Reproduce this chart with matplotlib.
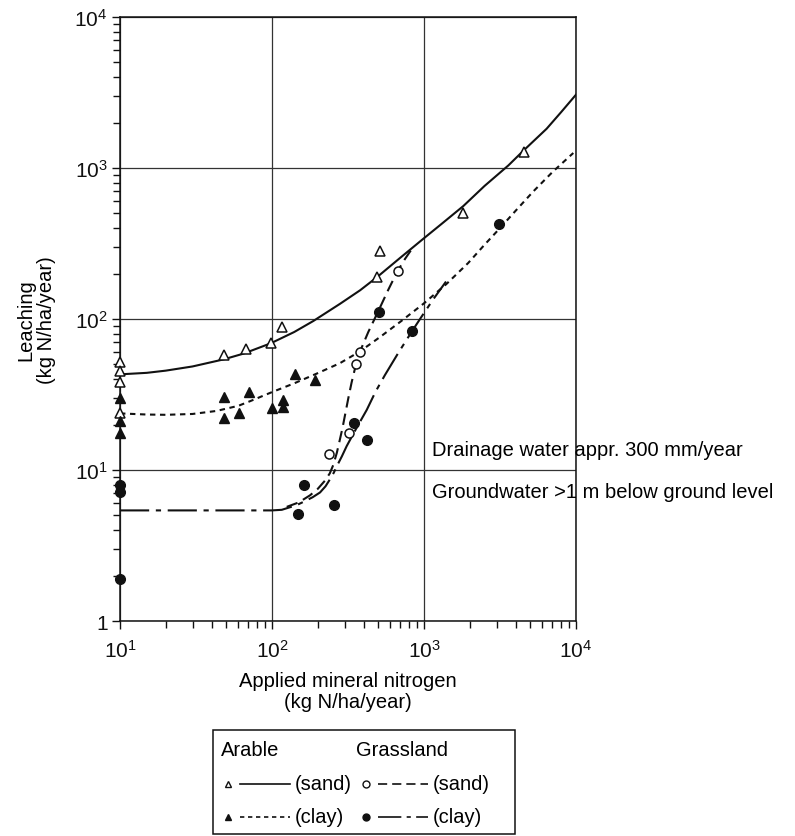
import matplotlib
matplotlib.use("Agg")
import matplotlib.pyplot as plt
from matplotlib.lines import Line2D
from matplotlib.patches import Rectangle
from matplotlib.ticker import LogLocator, FixedLocator, FixedFormatter, NullFormatter

plt.rcParams['font.family'] = ['Liberation Sans', 'DejaVu Sans']
plt.rcParams['mathtext.fontset'] = 'custom'
plt.rcParams['mathtext.rm'] = 'Liberation Sans'
plt.rcParams['mathtext.it'] = 'Liberation Sans:italic'
plt.rcParams['mathtext.bf'] = 'Liberation Sans:bold'

# ---------------- data ----------------
# Arable, sand (open triangles)
arable_sand_x = [10, 10, 10, 10, 48, 67, 98, 117, 489, 514, 1815, 4550]
arable_sand_y = [52, 45, 38, 24, 58, 63, 69, 89, 189, 284, 504, 1270]
# Arable, clay (filled triangles)
arable_clay_x = [10, 10, 10, 48, 48, 61, 71, 100, 118, 118, 142, 192]
arable_clay_y = [30, 21, 17.5, 30.6, 22, 24, 32.7, 25.8, 29, 26, 43, 39.6]
# Grassland, sand (open circles)
grass_sand_x = [238, 321, 357, 379, 671]
grass_sand_y = [12.7, 17.6, 50.7, 60.7, 207]
# Grassland, clay (filled circles)
grass_clay_x = [10, 10, 10, 149, 162, 256, 346, 420, 508, 834, 3126]
grass_clay_y = [8.0, 7.1, 1.9, 5.1, 8.0, 5.9, 20.4, 15.8, 111, 83, 428]

# fitted curves
curve_arable_sand_x = [10, 15, 20, 30, 48, 65, 98, 140, 187, 280, 380, 493, 700, 990,
                       1300, 1815, 2500, 3590, 4500, 6410, 8000, 10000]
curve_arable_sand_y = [43, 44, 45.5, 48.5, 54, 59, 69, 82, 97, 126, 155, 190, 255, 340,
                       425, 560, 760, 1040, 1300, 1820, 2350, 3060]

curve_arable_clay_x = [10, 15, 20, 30, 43, 60, 72, 100, 140, 197, 280, 379, 514, 700,
                       1000, 1400, 1954, 2500, 3162, 4000, 5240, 7000, 9600]
curve_arable_clay_y = [23.7, 23.3, 23.2, 23.5, 24.6, 26.6, 28.6, 32.8, 37.5, 43.5, 51, 61, 76, 96,
                       127, 170, 235, 310, 400, 520, 700, 940, 1257]

curve_grass_sand_x = [125, 150, 178, 200, 223, 240, 253, 267, 280, 291, 302, 318, 334, 355,
                      379, 430, 503, 580, 667, 750, 830]
curve_grass_sand_y = [5.7, 6.1, 6.8, 7.5, 8.5, 9.5, 10.8, 13, 16, 19, 23, 30, 38, 49,
                      60.8, 82, 114, 155, 206, 250, 290]

curve_grass_clay_x = [10, 50, 100, 116, 130, 145, 161, 185, 207, 225, 241, 255, 267, 288, 310,
                      360, 420, 480, 553, 680, 834, 966, 1150, 1396]
curve_grass_clay_y = [5.4, 5.4, 5.4, 5.45, 5.65, 5.85, 6.15, 6.6, 7.1, 7.8, 8.7, 9.6, 10.6, 12.3, 14.4,
                      19, 25, 33, 42.5, 60, 83, 104, 135, 177]

x_ticks = [10, 100, 1000, 10000]
x_tick_labels = [r'$\mathregular{10^{1}}$', r'$\mathregular{10^{2}}$',
                 r'$\mathregular{10^{3}}$', r'$\mathregular{10^{4}}$']
y_ticks = [1, 10, 100, 1000, 10000]
y_tick_labels = ['1', r'$\mathregular{10^{1}}$', r'$\mathregular{10^{2}}$',
                 r'$\mathregular{10^{3}}$', r'$\mathregular{10^{4}}$']

note1 = "Drainage water appr. 300 mm/year"
note2 = "Groundwater >1 m below ground level"

# ---------------- styles ----------------
W, H = 795, 837
fig = plt.figure(figsize=(W / 100, H / 100), dpi=100)
L, R, T, B = 120, 576, 18, 622
ax = fig.add_axes([L / W, 1 - B / H, (R - L) / W, (B - T) / H])

ax.set_xscale('log')
ax.set_yscale('log')
ax.set_xlim(10, 10000)
ax.set_ylim(1, 10000)

ink = '#111111'
ls_arable_sand = '-'
ls_arable_clay = (0, (2.6, 2.2))
ls_grass_sand = (0, (5.5, 3.0))
ls_grass_clay = (0, (14, 3.2, 2.5, 3.2))
lw = 1.5

ax.plot(curve_arable_sand_x, curve_arable_sand_y, color=ink, lw=lw, ls=ls_arable_sand)
ax.plot(curve_arable_clay_x, curve_arable_clay_y, color=ink, lw=lw, ls=ls_arable_clay)
ax.plot(curve_grass_sand_x, curve_grass_sand_y, color=ink, lw=lw, ls=ls_grass_sand)
ax.plot(curve_grass_clay_x, curve_grass_clay_y, color=ink, lw=lw, ls=ls_grass_clay)

ms = 6.5
ax.plot(arable_sand_x, arable_sand_y, ls='none', marker='^', ms=ms, mfc='white', mec=ink, mew=1.1, clip_on=False, zorder=5)
ax.plot(arable_clay_x, arable_clay_y, ls='none', marker='^', ms=ms, mfc=ink, mec=ink, mew=1.0, clip_on=False, zorder=5)
ax.plot(grass_sand_x, grass_sand_y, ls='none', marker='o', ms=ms, mfc='white', mec=ink, mew=1.1, clip_on=False, zorder=5)
ax.plot(grass_clay_x, grass_clay_y, ls='none', marker='o', ms=ms + 0.5, mfc=ink, mec=ink, mew=1.0, clip_on=False, zorder=5)

# grid and ticks
ax.grid(True, which='major', color='#333333', lw=0.9)
ax.set_axisbelow(True)
for s in ax.spines.values():
    s.set_linewidth(1.1)
    s.set_color(ink)

ax.xaxis.set_major_locator(FixedLocator(x_ticks))
ax.xaxis.set_major_formatter(FixedFormatter(x_tick_labels))
ax.yaxis.set_major_locator(FixedLocator(y_ticks))
ax.yaxis.set_major_formatter(FixedFormatter(y_tick_labels))
ax.xaxis.set_minor_locator(LogLocator(base=10, subs=range(2, 10)))
ax.yaxis.set_minor_locator(LogLocator(base=10, subs=range(2, 10)))
ax.xaxis.set_minor_formatter(NullFormatter())
ax.yaxis.set_minor_formatter(NullFormatter())
ax.tick_params(which='both', direction='out', top=False, right=False, colors=ink,
               width=1.0, labelsize=15)
ax.tick_params(which='major', length=6)
ax.tick_params(which='minor', length=5)
ax.tick_params(axis='x', which='major', pad=7)
ax.tick_params(axis='y', which='major', pad=3)

ax.set_xlabel("Applied mineral nitrogen\n(kg N/ha/year)", fontsize=14.5, linespacing=1.15)
ax.xaxis.set_label_coords(0.5, -0.082)
ax.set_ylabel("Leaching\n(kg N/ha/year)", fontsize=14.5, linespacing=1.15)
ax.yaxis.set_label_coords(-0.14, 0.5)

ax.text(1130, 13.7, note1, fontsize=14.5, ha='left', va='center', clip_on=False)
ax.text(1130, 7.2, note2, fontsize=14.5, ha='left', va='center', clip_on=False)

# ---------------- legend (drawn manually) ----------------
def fx(px):
    return px / W

def fy(py):
    return 1 - py / H

fig.add_artist(Rectangle((fx(213), fy(835)), fx(515) - fx(213), fy(731) - fy(835),
                         transform=fig.transFigure, fill=False, ec=ink, lw=1.1))
fig.text(fx(221), fy(751), "Arable", fontsize=14.5, va='center', ha='left')
fig.text(fx(356), fy(751), "Grassland", fontsize=14.5, va='center', ha='left')

rows = [
    (785, 228, '^', 'white', ls_arable_sand, "(sand)"),
    (818, 228, '^', ink, ls_arable_clay, "(clay)"),
    (785, 366, 'o', 'white', ls_grass_sand, "(sand)"),
    (818, 366, 'o', ink, ls_grass_clay, "(clay)"),
]
for py, mx, mk, fc, ls, lab in rows:
    fig.add_artist(Line2D([fx(mx)], [fy(py)], marker=mk, ms=5, mfc=fc, mec=ink, mew=1.0,
                          ls='none', transform=fig.transFigure))
    fig.add_artist(Line2D([fx(mx + 12), fx(mx + 62)], [fy(py), fy(py)], color=ink, lw=1.2, ls=ls,
                          transform=fig.transFigure))
    fig.text(fx(mx + 67), fy(py), lab, fontsize=14.5, va='center', ha='left')

fig.savefig("out.png", dpi=100)
